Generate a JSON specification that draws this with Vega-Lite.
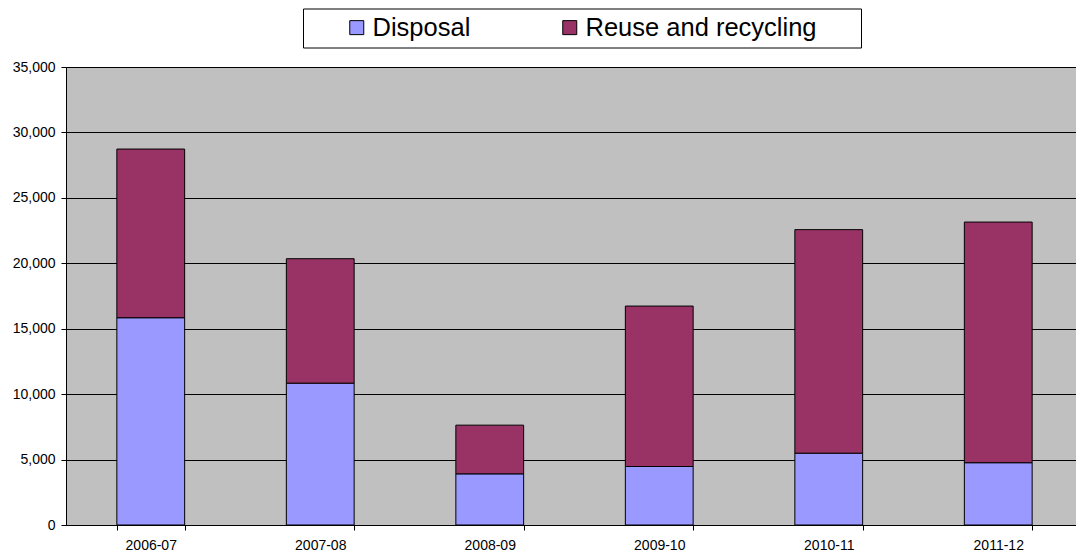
{
  "$schema": "https://vega.github.io/schema/vega-lite/v6.json",
  "autosize": "none",
  "padding": {"left": 66, "top": 67, "right": -7, "bottom": 34},
  "width": 1017,
  "height": 458,
  "background": "#FFFFFF",
  "config": {
    "font": "Liberation Sans",
    "view": {"fill": "#C0C0C0", "stroke": "#808080", "strokeWidth": 1}
  },
  "data": {
    "values": [
      {"year": "2006-07", "stream": "Disposal", "tonnes": 15840},
      {"year": "2006-07", "stream": "Reuse and recycling", "tonnes": 12890},
      {"year": "2007-08", "stream": "Disposal", "tonnes": 10840},
      {"year": "2007-08", "stream": "Reuse and recycling", "tonnes": 9510},
      {"year": "2008-09", "stream": "Disposal", "tonnes": 3910},
      {"year": "2008-09", "stream": "Reuse and recycling", "tonnes": 3720},
      {"year": "2009-10", "stream": "Disposal", "tonnes": 4470},
      {"year": "2009-10", "stream": "Reuse and recycling", "tonnes": 12260},
      {"year": "2010-11", "stream": "Disposal", "tonnes": 5490},
      {"year": "2010-11", "stream": "Reuse and recycling", "tonnes": 17080},
      {"year": "2011-12", "stream": "Disposal", "tonnes": 4760},
      {"year": "2011-12", "stream": "Reuse and recycling", "tonnes": 18390}
    ]
  },
  "mark": {"type": "bar", "stroke": "#000000", "strokeWidth": 1},
  "encoding": {
    "x": {
      "field": "year",
      "type": "nominal",
      "scale": {"paddingInner": 0.6, "paddingOuter": 0.3},
      "axis": {
        "title": null,
        "labelAngle": 0,
        "labelFontSize": 14,
        "labelColor": "#000000",
        "labelPadding": 8,
        "tickBand": "extent",
        "tickSize": 5,
        "tickColor": "#000000",
        "domainColor": "#000000",
        "grid": false
      }
    },
    "y": {
      "field": "tonnes",
      "type": "quantitative",
      "stack": "zero",
      "scale": {"domain": [0, 35000], "nice": false},
      "axis": {
        "title": null,
        "values": [0, 5000, 10000, 15000, 20000, 25000, 30000, 35000],
        "format": ",.0f",
        "labelFontSize": 14,
        "labelColor": "#000000",
        "labelPadding": 6,
        "tickSize": 5,
        "tickColor": "#000000",
        "domainColor": "#000000",
        "grid": true,
        "gridColor": "#000000",
        "gridOpacity": 1,
        "gridWidth": 1
      }
    },
    "order": {"field": "stream", "sort": "ascending"},
    "color": {
      "field": "stream",
      "type": "nominal",
      "scale": {
        "domain": ["Disposal", "Reuse and recycling"],
        "range": ["#9999FF", "#993366"]
      },
      "legend": {
        "title": "\u00a0",
        "titleOrient": "right",
        "titleFontSize": 25,
        "titlePadding": 38,
        "orient": "none",
        "legendX": 237,
        "legendY": -58.5,
        "direction": "horizontal",
        "symbolType": "square",
        "symbolSize": 196,
        "symbolStrokeColor": "#000000",
        "symbolStrokeWidth": 1,
        "symbolOffset": 35,
        "labelOffset": 3,
        "labelFontSize": 25.5,
        "labelColor": "#000000",
        "labelLimit": 400,
        "columnPadding": 51,
        "padding": 6,
        "strokeColor": "#000000",
        "fillColor": "#FFFFFF"
      }
    }
  }
}
